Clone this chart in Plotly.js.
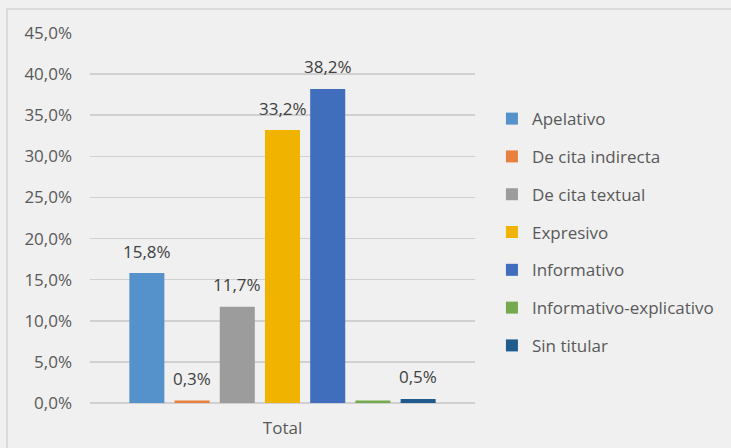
<!DOCTYPE html>
<html>
<head>
<meta charset="utf-8">
<script src="https://cdn.plot.ly/plotly-3.0.1.min.js"></script>
<style>html,body{margin:0;padding:0;background:#f2f2f2;}#chart{width:731px;height:448px;}</style>
</head>
<body>
<div id="chart"></div>
<script>
const category = ["Total"];
const seriesNames = ["Apelativo", "De cita indirecta", "De cita textual", "Expresivo", "Informativo", "Informativo-explicativo", "Sin titular"];
const seriesValues = [15.8, 0.3, 11.7, 33.2, 38.2, 0.3, 0.5];
const seriesLabels = ["15,8%", "0,3%", "11,7%", "33,2%", "38,2%", "", "0,5%"];
const seriesColors = ["#5592cb", "#e8803d", "#9c9c9c", "#f0b400", "#416dbd", "#74a94e", "#215b8d"];
const yTickVals = [0, 5, 10, 15, 20, 25, 30, 35, 40, 45];
const yTickText = ["0,0%", "5,0%", "10,0%", "15,0%", "20,0%", "25,0%", "30,0%", "35,0%", "40,0%", "45,0%"];

const FONT = "Open Sans, DejaVu Sans, sans-serif";
const traces = seriesNames.map((name, i) => ({
  type: "bar",
  name: name,
  x: category,
  y: [seriesValues[i]],
  marker: {color: seriesColors[i]},
  legendgroup: "g" + i,
  hoverinfo: "skip"
}));

const layout = {
  width: 731,
  height: 448,
  paper_bgcolor: "#f0f0f0",
  plot_bgcolor: "rgba(0,0,0,0)",
  margin: {l: 90, r: 256, t: 33, b: 45, pad: 0, autoexpand: false},
  barmode: "group",
  bargap: 0.178,
  bargroupgap: 0.225,
  font: {family: FONT, size: 17, color: "#595959"},
  showlegend: true,
  legend: {
    x: 1.044, xanchor: "left",
    y: 0.462, yanchor: "middle",
    bgcolor: "rgba(0,0,0,0)",
    font: {family: FONT, size: 17, color: "#595959"},
    tracegroupgap: 12.7,
    traceorder: "grouped"
  },
  xaxis: {
    type: "category",
    showgrid: false,
    showline: false,
    ticks: "",
    ticklabelstandoff: 13,
    tickfont: {family: FONT, size: 17, color: "#595959"},
    fixedrange: true
  },
  yaxis: {
    range: [0, 45],
    tickvals: yTickVals,
    ticktext: yTickText,
    showgrid: true,
    gridcolor: "#d0d0d0",
    gridwidth: 1.5,
    zeroline: true,
    zerolinecolor: "#d0d0d0",
    zerolinewidth: 1.5,
    showline: false,
    ticks: "",
    ticklabelstandoff: 17,
    tickfont: {family: FONT, size: 17, color: "#595959"},
    fixedrange: true
  },
  shapes: [{
    type: "rect", xref: "paper", yref: "paper", layer: "below",
    x0: -83 / 385, x1: 1.8, y0: -0.5, y1: 1 + 24 / 370,
    line: {color: "#d4d4d4", width: 1.5},
    fillcolor: "rgba(0,0,0,0)"
  }]
};

const gd = document.getElementById("chart");
Plotly.newPlot(gd, traces, layout, {displayModeBar: false, staticPlot: true}).then(() => {
  // data labels placed at the bar centres computed by Plotly itself
  const annotations = [];
  gd.calcdata.forEach((cd, i) => {
    if (!seriesLabels[i]) return;
    const bar = cd[0];
    const xc = (bar.p0 !== undefined && bar.p1 !== undefined) ? (bar.p0 + bar.p1) / 2 : bar.x;
    annotations.push({
      xref: "x", yref: "y",
      x: xc, y: bar.s,
      text: seriesLabels[i],
      showarrow: false,
      xanchor: "center", yanchor: "middle",
      yshift: 22,
      font: {family: FONT, size: 17, color: "#404040"}
    });
  });
  return Plotly.relayout(gd, {annotations: annotations});
});
</script>
</body>
</html>
